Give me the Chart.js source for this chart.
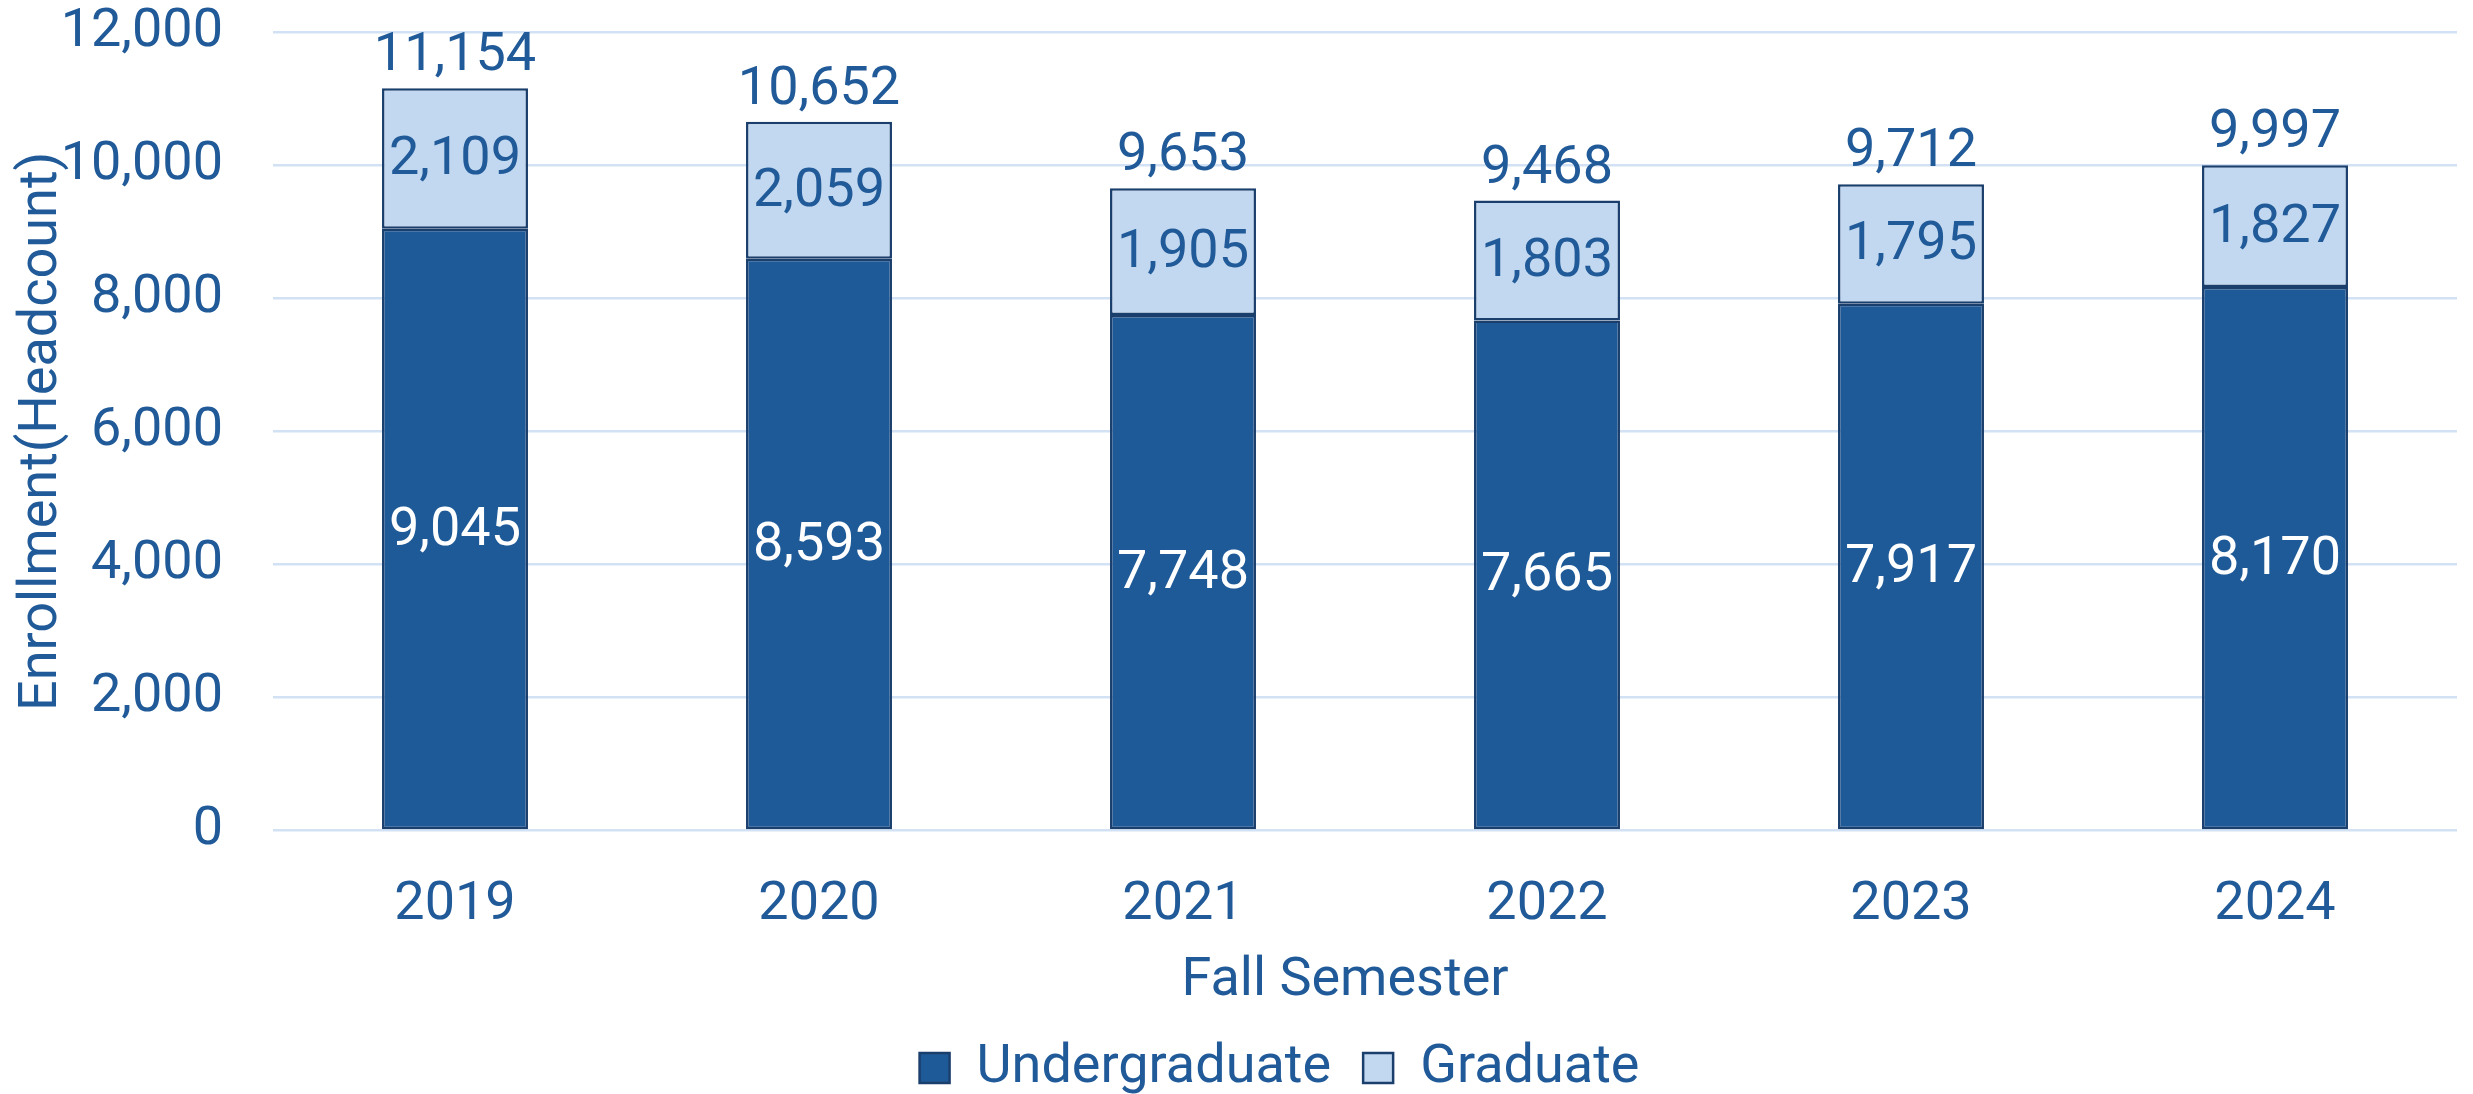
<!DOCTYPE html>
<html>
<head>
<meta charset="utf-8">
<script src="https://cdn.jsdelivr.net/npm/chart.js@4.4.1/dist/chart.umd.min.js"></script>
<style>
  html, body { margin: 0; padding: 0; background: #ffffff; }
  #wrap { width: 2473px; height: 1094px; position: relative; }
</style>
</head>
<body>
<div id="wrap"><canvas id="c" width="2473" height="1094"></canvas></div>
<script>
// ---- data ----
const categories = ['2019', '2020', '2021', '2022', '2023', '2024'];
const undergraduate = [9045, 8593, 7748, 7665, 7917, 8170];
const graduate = [2109, 2059, 1905, 1803, 1795, 1827];
const totals = [11154, 10652, 9653, 9468, 9712, 9997];
const yTickValues = [0, 2000, 4000, 6000, 8000, 10000, 12000];
const seriesNames = ['Undergraduate', 'Graduate'];
const axisTitles = { x: 'Fall Semester', y: 'Enrollment(Headcount)' };

// ---- styles ----
const TEXT = '#215A98';
const DARK = '#1F5A98';
const LIGHT = '#C2D8F0';
const BORDER = '#1B3F6D';
const GRID = '#D2E2F4';
const FONT = 'Roboto';
const FS = 54;

const fmt = v => Number(v).toLocaleString('en-US');

const labelPlugin = {
  id: 'barLabels',
  afterDatasetsDraw(chart) {
    const ctx = chart.ctx;
    ctx.save();
    ctx.font = FS + 'px ' + FONT;
    ctx.textAlign = 'center';
    const m0 = chart.getDatasetMeta(0);
    const m1 = chart.getDatasetMeta(1);
    m0.data.forEach((el, i) => {
      ctx.fillStyle = '#FFFFFF';
      ctx.textBaseline = 'middle';
      ctx.fillText(fmt(undergraduate[i]), el.x, (el.y + el.base) / 2 + 2);
    });
    m1.data.forEach((el, i) => {
      ctx.fillStyle = TEXT;
      ctx.textBaseline = 'middle';
      ctx.fillText(fmt(graduate[i]), el.x, (el.y + el.base) / 2 + 2);
      ctx.textBaseline = 'alphabetic';
      ctx.fillText(fmt(totals[i]), el.x, el.y - 18);
    });
    ctx.restore();
  }
};

// small placement offsets for legend and x-axis title (as in the original)
const placementPlugin = {
  id: 'placement',
  afterLayout(chart) {
    if (chart.legend) { chart.legend.left += 46; chart.legend.right += 46; }
    const xs = chart.scales.x;
    if (xs && !xs._shifted) {
      const orig = xs.drawTitle.bind(xs);
      xs.drawTitle = function () {
        chart.ctx.save();
        chart.ctx.translate(-20, 0);
        orig();
        chart.ctx.restore();
      };
      xs._shifted = true;
    }
  }
};

function build() {
  new Chart(document.getElementById('c'), {
    type: 'bar',
    data: {
      labels: categories,
      datasets: [
        { label: seriesNames[0], data: undergraduate, backgroundColor: DARK, borderColor: BORDER, borderWidth: 2.5, borderSkipped: false },
        { label: seriesNames[1], data: graduate, backgroundColor: LIGHT, borderColor: BORDER, borderWidth: 2.5, borderSkipped: false }
      ]
    },
    options: {
      responsive: false,
      animation: false,
      devicePixelRatio: 1,
      layout: { padding: { top: 32, left: 10, right: 16, bottom: -11 } },
      datasets: { bar: { barPercentage: 0.401, categoryPercentage: 1.0 } },
      plugins: {
        legend: {
          position: 'bottom',
          labels: {
            color: TEXT,
            font: { family: FONT, size: FS },
            boxWidth: 30,
            boxHeight: 30,
            padding: 32
          }
        },
        tooltip: { enabled: false }
      },
      scales: {
        x: {
          stacked: true,
          grid: { display: false },
          border: { display: false },
          ticks: { color: TEXT, font: { family: FONT, size: FS }, padding: 34, maxRotation: 0 },
          title: { display: true, text: axisTitles.x, color: TEXT, font: { family: FONT, size: FS }, padding: { top: 0, bottom: -5 } },
          afterFit(s) { s.height = 178.4; s.paddingLeft = 0; s.paddingRight = 0; }
        },
        y: {
          stacked: true,
          min: 0,
          max: 12000,
          grid: { color: GRID, lineWidth: 2.5, drawTicks: false },
          border: { display: false },
          afterBuildTicks(s) { s.ticks = yTickValues.map(v => ({ value: v })); },
          ticks: { color: TEXT, font: { family: FONT, size: FS }, padding: 50, callback: v => fmt(v) },
          title: { display: true, text: axisTitles.y, color: TEXT, font: { family: FONT, size: FS }, padding: 0 },
          afterFit(s) { s.width = 263; s.paddingTop = 0; s.paddingBottom = 0; }
        }
      }
    },
    plugins: [labelPlugin, placementPlugin]
  });
}

if (document.fonts && document.fonts.load) {
  document.fonts.load(FS + 'px ' + FONT).then(build, build);
} else {
  build();
}
</script>
</body>
</html>
